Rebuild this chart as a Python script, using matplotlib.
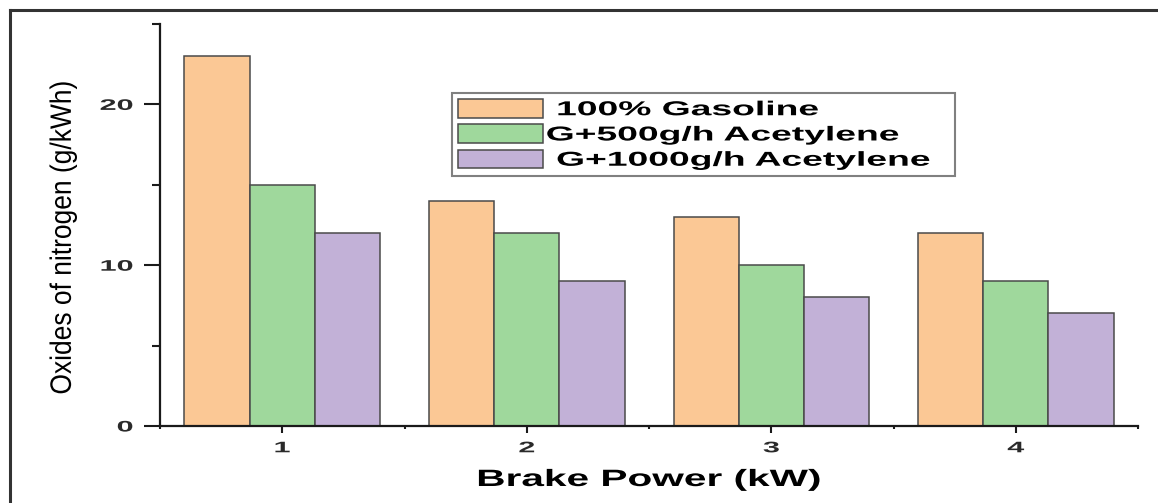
import matplotlib
matplotlib.use('Agg')
import matplotlib.pyplot as plt
import numpy as np
from matplotlib.patheffects import AbstractPathEffect
from matplotlib.transforms import Affine2D
from matplotlib.lines import Line2D
from matplotlib.ticker import FixedLocator

# ---- data ----
brake_power = [1, 2, 3, 4]
series_labels = [" 100% Gasoline", "G+500g/h Acetylene", " G+1000g/h Acetylene"]
gasoline = [23, 14, 13, 12]
acetylene_500 = [15, 12, 10, 9]
acetylene_1000 = [12, 9, 8, 7]
y_major = [0, 10, 20]
y_minor = [5, 15, 25]
x_minor = [0.5, 1.5, 2.5, 3.5, 4.5]

colors = ['#FBC895', '#9FD89C', '#C2B1D7']

plt.rcParams['font.family'] = ['Liberation Sans', 'DejaVu Sans']


class HStretch(AbstractPathEffect):
    """Draw text stretched horizontally (text stays a real Text artist)."""
    def __init__(self, sx, ha='center'):
        super().__init__()
        self.sx = sx
        self.ha = ha

    def draw_path(self, renderer, gc, tpath, affine, rgbFace=None):
        if self.ha == 'left':
            cx = affine.transform((0, 0))[0]
        else:
            ext = tpath.get_extents(affine)
            cx = ext.x1 if self.ha == 'right' else 0.5 * (ext.x0 + ext.x1)
        new = affine + Affine2D().translate(-cx, 0).scale(self.sx, 1).translate(cx, 0)
        renderer.draw_path(gc, tpath, new, rgbFace)


fig = plt.figure(figsize=(11.58, 5.03), dpi=100)
ax = fig.add_axes([0.1382, 0.1531, 0.8446, 0.7992])

x = np.array(brake_power, dtype=float)
w = 0.8 / 3
for i, (vals, c, lab) in enumerate(zip([gasoline, acetylene_500, acetylene_1000],
                                      colors, series_labels)):
    ax.bar(x + (i - 1) * w, vals, width=w, color=c, edgecolor='#4a4a4a',
           linewidth=1.1, label=lab, zorder=2)

ax.set_xlim(0.5, 4.5)
ax.set_ylim(0, 25)
ax.set_xticks(brake_power)
ax.set_yticks(y_major)
ax.xaxis.set_minor_locator(FixedLocator(x_minor))
ax.yaxis.set_minor_locator(FixedLocator(y_minor))

for s in ['top', 'right']:
    ax.spines[s].set_visible(False)
for s in ['left', 'bottom']:
    ax.spines[s].set_linewidth(1.6)
    ax.spines[s].set_color('#1a1a1a')

ax.tick_params(axis='y', which='major', direction='out', length=11.5, width=1.5,
               pad=8, labelsize=11, color='#1a1a1a', labelcolor='#2a2a2a')
ax.tick_params(axis='y', which='minor', direction='out', length=5.8, width=1.5,
               color='#1a1a1a')
ax.tick_params(axis='x', which='major', direction='out', length=5, width=1.5,
               pad=6, labelsize=11, color='#1a1a1a', labelcolor='#2a2a2a')
ax.tick_params(axis='x', which='minor', direction='out', length=2.5, width=1.5,
               color='#1a1a1a')

for lab in ax.get_xticklabels():
    lab.set_fontweight('bold')
    lab.set_path_effects([HStretch(2.0, 'center')])
for lab in ax.get_yticklabels():
    lab.set_fontweight('bold')
    lab.set_path_effects([HStretch(2.0, 'right')])

ax.set_ylabel('Oxides of nitrogen (g/kWh)', fontsize=19, color='black')
ax.yaxis.set_label_coords(-0.0869, 0.469)
ax.yaxis.label.set_path_effects([HStretch(1.12, 'center')])

ax.set_xlabel('Brake Power (kW)', fontsize=17, fontweight='bold', color='black')
ax.xaxis.set_label_coords(0.5, -0.1045)
ax.xaxis.label.set_path_effects([HStretch(1.72, 'center')])

leg = ax.legend(loc='upper left', bbox_to_anchor=(0.2986, 0.6219, 0.5143, 0.2065),
                mode='expand', ncols=1,
                prop={'family': 'Liberation Sans', 'weight': 'bold', 'size': 14.5},
                handlelength=4.2, handleheight=1.05, handletextpad=0.15,
                labelspacing=0.25, borderpad=0.3, borderaxespad=0,
                fancybox=False, framealpha=1, edgecolor='#808080')
leg.get_frame().set_linewidth(1.5)
for t in leg.get_texts():
    t.set_color('black')
    t.set_path_effects([HStretch(1.85, 'left')])

# figure border (left and top)
bx = 10 / 1158
by = 1 - 10 / 503
fig.add_artist(Line2D([bx, bx], [0, by], transform=fig.transFigure,
                      color='#333333', lw=2.2))
fig.add_artist(Line2D([bx, 1], [by, by], transform=fig.transFigure,
                      color='#333333', lw=2.2))

fig.savefig('out.png', dpi=100)
